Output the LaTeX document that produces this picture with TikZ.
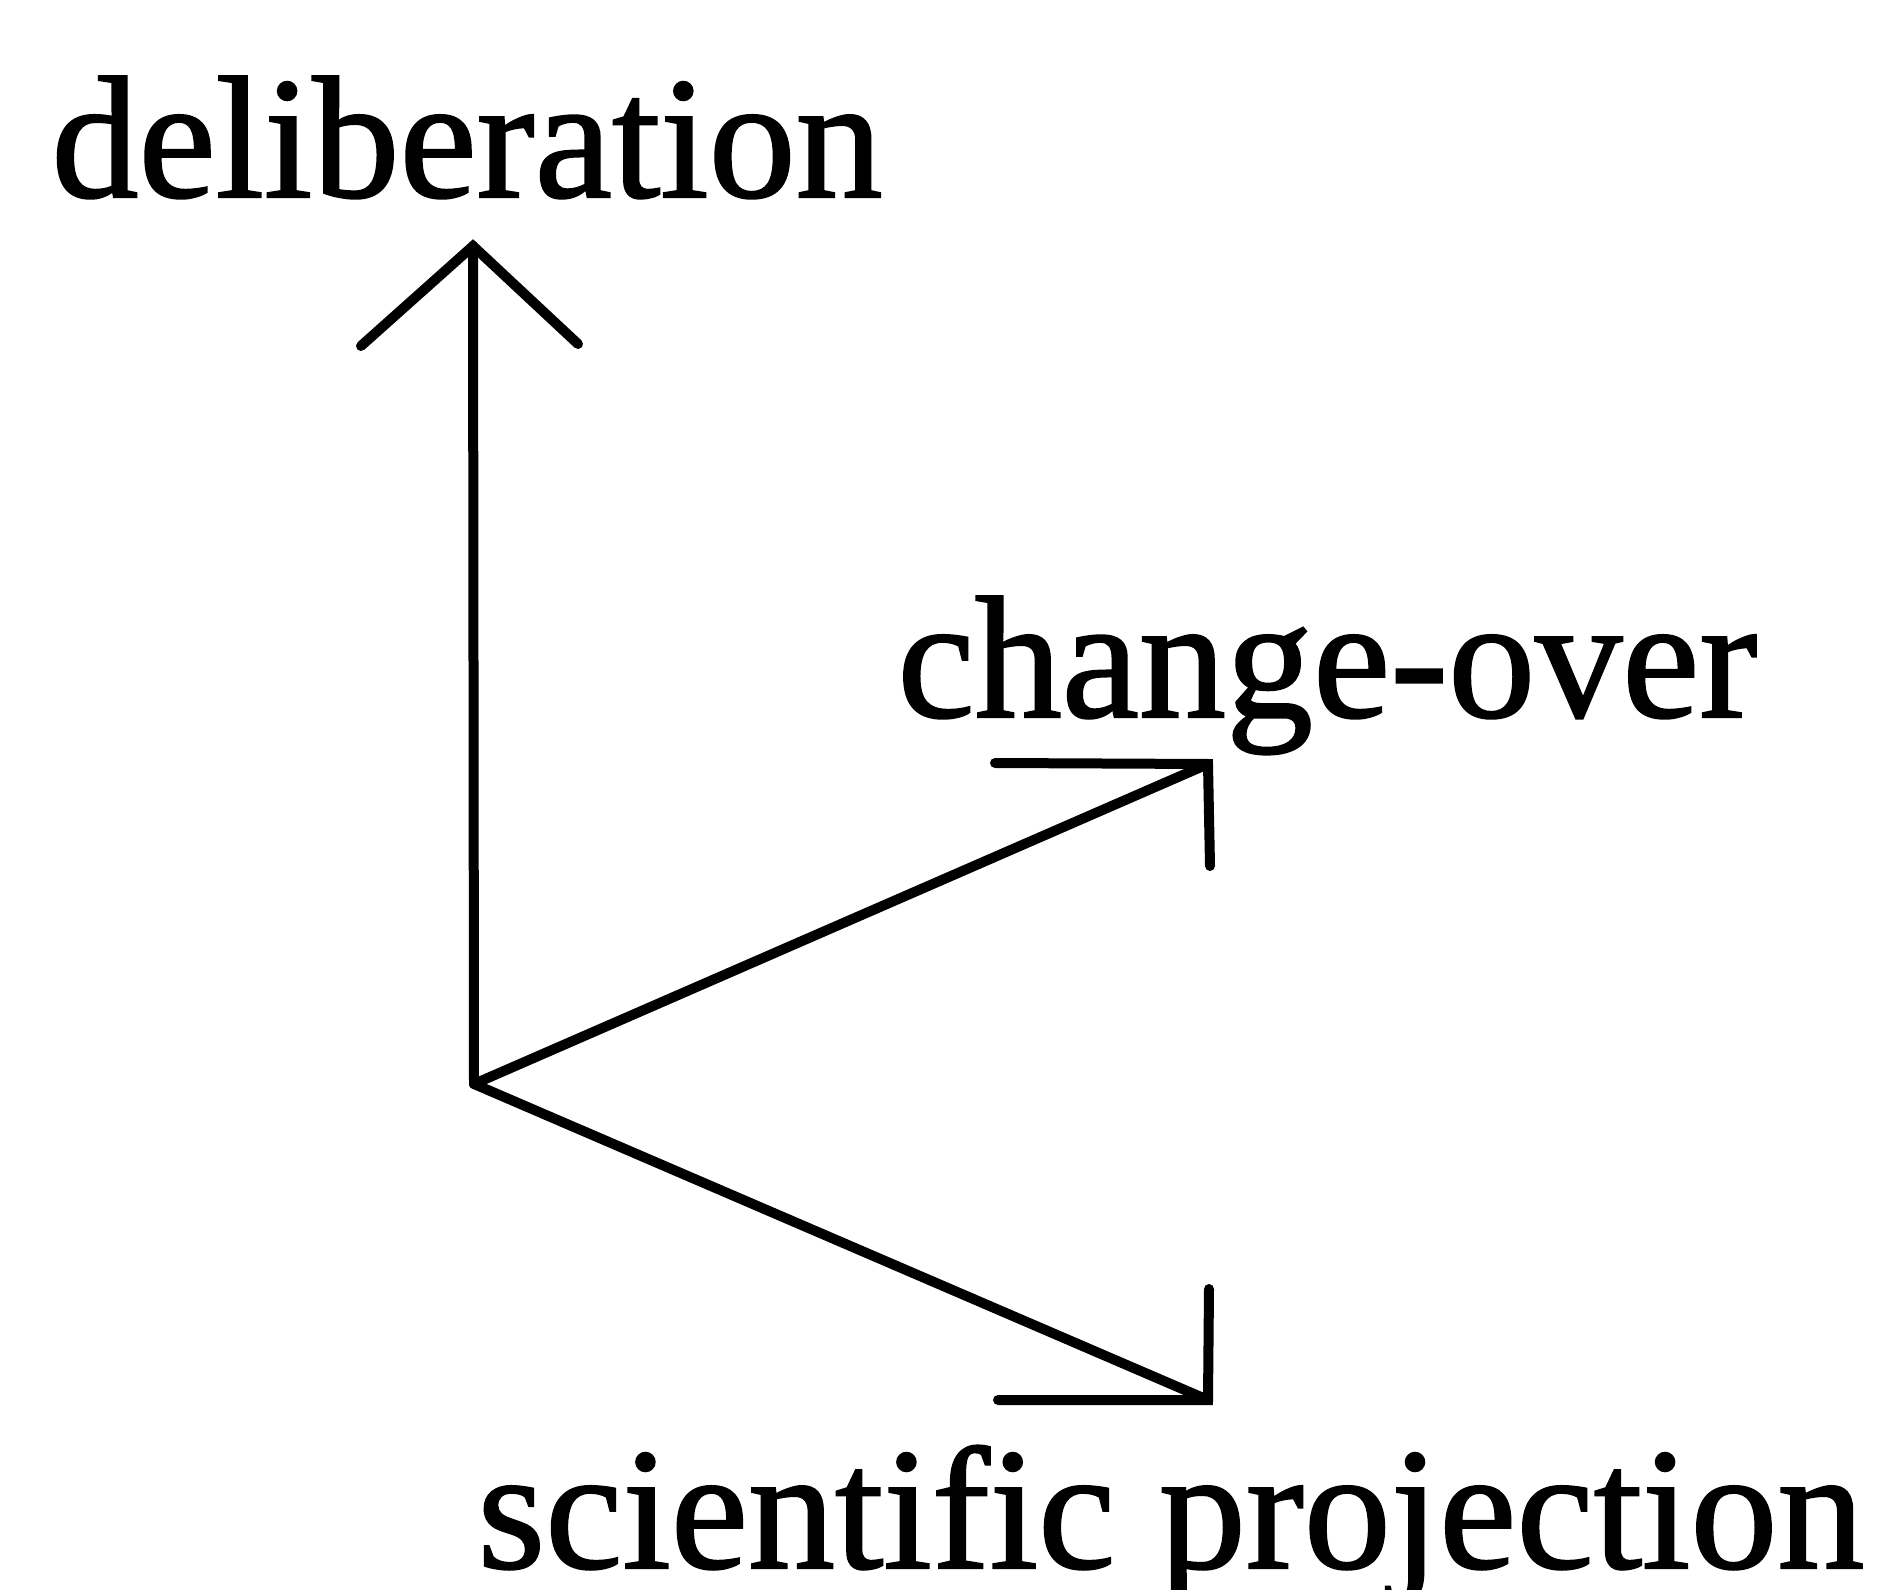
\documentclass[tikz,border=0pt]{standalone}
\usepackage{fontspec}
\setmainfont{Liberation Serif}[FakeBold=1.2]
\begin{document}
\begin{tikzpicture}[x=0.4pt,y=-0.4pt,
  lbl/.style={anchor=base west,inner sep=0pt,font=\fontsize{69.6pt}{80pt}\selectfont},
  axis/.style={line width=4pt,line cap=round,line join=miter}]
\useasboundingbox (0,0) rectangle (1887,1590);
\coordinate (O) at (474,1084);
\coordinate (tD) at (473,246);
\coordinate (tC) at (1208,764);
\coordinate (tS) at (1208,1400);
\coordinate (dL) at (361,346);
\coordinate (dR) at (578,344);
\coordinate (cL) at (995,763);
\coordinate (cB) at (1210,866);
\coordinate (sL) at (998,1400);
\coordinate (sT) at (1209,1289);
\draw[axis] (O) -- (tD);
\draw[axis] (dL) -- (tD) -- (dR);
\draw[axis] (O) -- (tC);
\draw[axis] (cL) -- (tC) -- (cB);
\draw[axis] (O) -- (tS);
\draw[axis] (sL) -- (tS) -- (sT);
\node[lbl] (delib) at (51,197) {deliberation};
\node[lbl] (change) at (897,717) {change-over};
\node[lbl] (sci) at (477,1568) {scientific projection};
\end{tikzpicture}
\end{document}
